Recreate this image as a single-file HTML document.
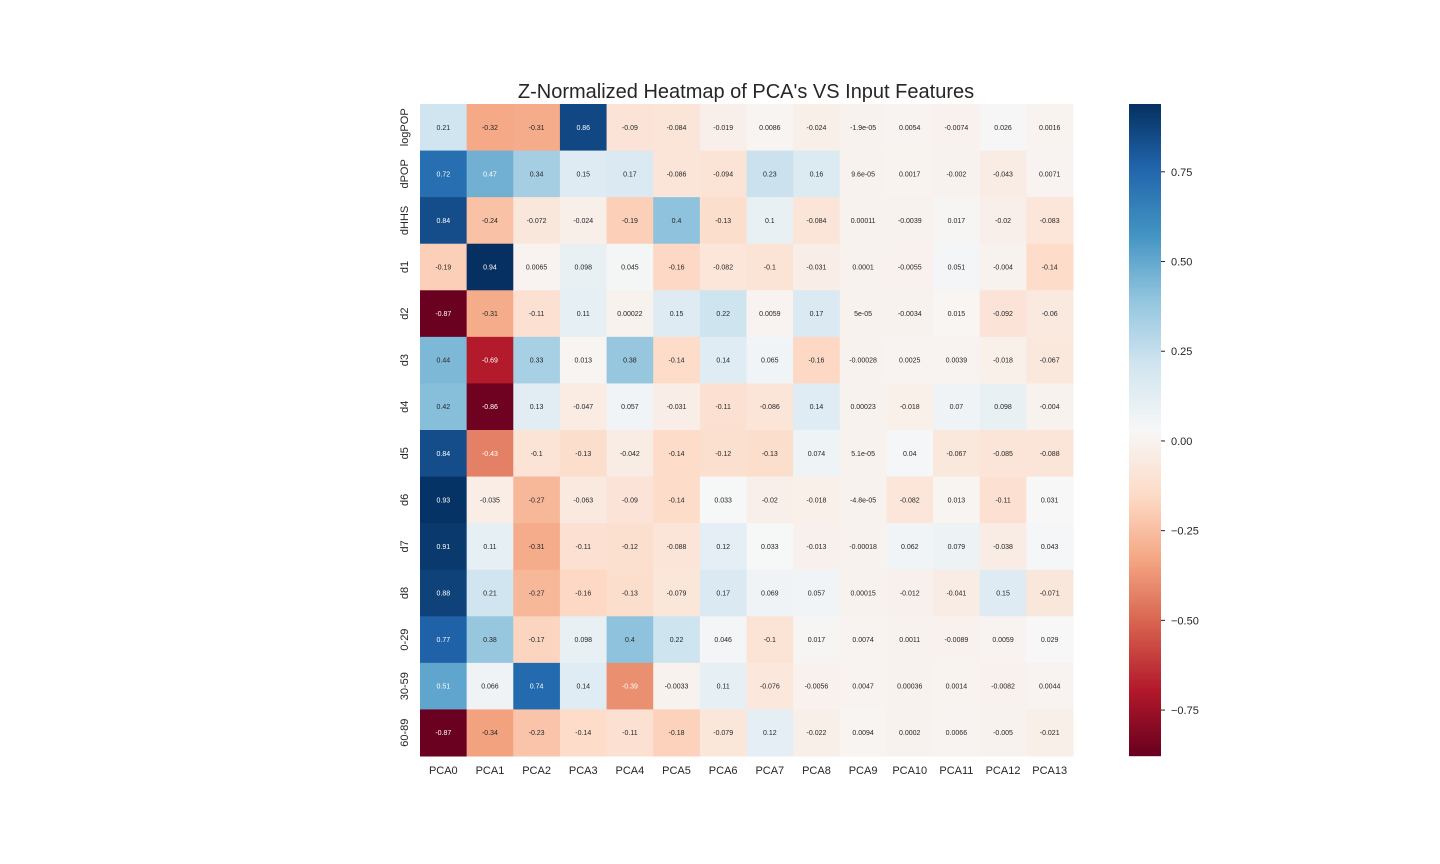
<!DOCTYPE html>
<html><head><meta charset="utf-8">
<style>
html,body{margin:0;padding:0;background:#fff;}
svg{display:block;font-family:"Liberation Sans","DejaVu Sans",sans-serif;}
</style></head>
<body>
<svg id="chart" width="1440" height="864" viewBox="0 0 1440 864" xmlns="http://www.w3.org/2000/svg">
<text x="746" y="98" font-size="20" text-anchor="middle" fill="#262626">Z-Normalized Heatmap of PCA's VS Input Features</text>
<g id="cells"></g>
<g id="ylabels"></g>
<g id="xlabels"></g>
<g id="cbar"></g>
</svg>
<script>
const rowLabels = ["logPOP","dPOP","dHHS","d1","d2","d3","d4","d5","d6","d7","d8","0-29","30-59","60-89"];
const colLabels = ["PCA0","PCA1","PCA2","PCA3","PCA4","PCA5","PCA6","PCA7","PCA8","PCA9","PCA10","PCA11","PCA12","PCA13"];
const rowLogPOP = [0.21,-0.32,-0.31,0.86,-0.09,-0.084,-0.019,0.0086,-0.024,-1.9e-05,0.0054,-0.0074,0.026,0.0016];
const rowDPOP = [0.72,0.47,0.34,0.15,0.17,-0.086,-0.094,0.23,0.16,9.6e-05,0.0017,-0.002,-0.043,0.0071];
const rowDHHS = [0.84,-0.24,-0.072,-0.024,-0.19,0.4,-0.13,0.1,-0.084,0.00011,-0.0039,0.017,-0.02,-0.083];
const rowD1 = [-0.19,0.94,0.0065,0.098,0.045,-0.16,-0.082,-0.1,-0.031,0.0001,-0.0055,0.051,-0.004,-0.14];
const rowD2 = [-0.87,-0.31,-0.11,0.11,0.00022,0.15,0.22,0.0059,0.17,5e-05,-0.0034,0.015,-0.092,-0.06];
const rowD3 = [0.44,-0.69,0.33,0.013,0.38,-0.14,0.14,0.065,-0.16,-0.00028,0.0025,0.0039,-0.018,-0.067];
const rowD4 = [0.42,-0.86,0.13,-0.047,0.057,-0.031,-0.11,-0.086,0.14,0.00023,-0.018,0.07,0.098,-0.004];
const rowD5 = [0.84,-0.43,-0.1,-0.13,-0.042,-0.14,-0.12,-0.13,0.074,5.1e-05,0.04,-0.067,-0.085,-0.088];
const rowD6 = [0.93,-0.035,-0.27,-0.063,-0.09,-0.14,0.033,-0.02,-0.018,-4.8e-05,-0.082,0.013,-0.11,0.031];
const rowD7 = [0.91,0.11,-0.31,-0.11,-0.12,-0.088,0.12,0.033,-0.013,-0.00018,0.062,0.079,-0.038,0.043];
const rowD8 = [0.88,0.21,-0.27,-0.16,-0.13,-0.079,0.17,0.069,0.057,0.00015,-0.012,-0.041,0.15,-0.071];
const row0_29 = [0.77,0.38,-0.17,0.098,0.4,0.22,0.046,-0.1,0.017,0.0074,0.0011,-0.0089,0.0059,0.029];
const row30_59 = [0.51,0.066,0.74,0.14,-0.39,-0.0033,0.11,-0.076,-0.0056,0.0047,0.00036,0.0014,-0.0082,0.0044];
const row60_89 = [-0.87,-0.34,-0.23,-0.14,-0.11,-0.18,-0.079,0.12,-0.022,0.0094,0.0002,0.0066,-0.005,-0.021];
const cbarTicks = [0.75,0.5,0.25,0,-0.25,-0.5,-0.75];
const cbarTickLabels = ["0.75","0.50","0.25","0.00","\u22120.25","\u22120.50","\u22120.75"];

const matrix = [rowLogPOP,rowDPOP,rowDHHS,rowD1,rowD2,rowD3,rowD4,rowD5,rowD6,rowD7,rowD8,row0_29,row30_59,row60_89];
const NS = "http://www.w3.org/2000/svg";
const X0 = 420, X1 = 1073, Y0 = 104, Y1 = 756;
const cw = (X1 - X0) / colLabels.length, ch = (Y1 - Y0) / rowLabels.length;
const vmin = -0.878, vmax = 0.939;
const xPos = i => X0 + i * cw;
const yPos = j => Y0 + j * ch;
const cbY = v => Y0 + (vmax - v) / (vmax - vmin) * (Y1 - Y0);

const rdbu = ["#67001f","#b2182b","#d6604d","#f4a582","#fddbc7","#f7f7f7","#d1e5f0","#92c5de","#4393c3","#2166ac","#053061"].map(h=>[parseInt(h.substr(1,2),16),parseInt(h.substr(3,2),16),parseInt(h.substr(5,2),16)]);
function cmap(v){
  let t = (v - vmin) / (vmax - vmin); t = Math.max(0, Math.min(1, t));
  const p = t * 10, i = Math.min(9, Math.floor(p)), f = p - i;
  const a = rdbu[i], b = rdbu[i+1];
  return [0,1,2].map(k => Math.round(a[k] + (b[k]-a[k])*f));
}
function lum(c){
  const l = c.map(x=>{x/=255;return x<=0.03928?x/12.92:Math.pow((x+0.055)/1.055,2.4);});
  return 0.2126*l[0]+0.7152*l[1]+0.0722*l[2];
}
function fmt(v){
  if (v === 0) return "0";
  const e = Math.floor(Math.log10(Math.abs(v)));
  if (e < -4) {
    let m = parseFloat((v/Math.pow(10,e)).toPrecision(2)).toString();
    const ae = Math.abs(e);
    return m + "e-" + (ae<10?"0":"") + ae;
  }
  return parseFloat(v.toPrecision(2)).toString();
}
function mk(tag, attrs, parent){
  const el = document.createElementNS(NS, tag);
  for (const k in attrs) el.setAttribute(k, attrs[k]);
  parent.appendChild(el); return el;
}
const gc = document.getElementById("cells");
matrix.forEach((row, j) => {
  row.forEach((v, i) => {
    const c = cmap(v);
    const r = mk("rect", {x:xPos(i), y:yPos(j), width:cw+0.5, height:ch+0.5, fill:`rgb(${c[0]},${c[1]},${c[2]})`}, gc);
    
    
    const t = mk("text", {x:xPos(i)+cw/2, y:yPos(j)+ch/2+2.5, "font-size":"7", "text-anchor":"middle", fill: lum(c) > 0.408 ? "#262626" : "#ffffff"}, gc);
    
    
    t.textContent = fmt(v);
  });
});
const gy = document.getElementById("ylabels");
rowLabels.forEach((lab, j) => {
  const cy = yPos(j) + ch/2, x = 408;
  const t = mk("text", {x:x, y:cy, "font-size":"11", "text-anchor":"middle", fill:"#262626", transform:`rotate(-90 ${x} ${cy})`}, gy);
  
  
  t.textContent = lab;
});
const gx = document.getElementById("xlabels");
colLabels.forEach((lab, i) => {
  const t = mk("text", {x:xPos(i)+cw/2, y:774, "font-size":"11", "text-anchor":"middle", fill:"#262626"}, gx);
  
  
  t.textContent = lab;
});
const gb = document.getElementById("cbar");
const CB0 = 1129, CBW = 32;
for (let k = 0; k < 652; k++) {
  const v = vmax - (k + 0.5) / 652 * (vmax - vmin);
  const c = cmap(v);
  const r = mk("rect", {x:CB0, y:Y0 + k, width:CBW, height:1.2, fill:`rgb(${c[0]},${c[1]},${c[2]})`}, gb);
  
  
}
cbarTicks.forEach((v, k) => {
  const y = cbY(v);
  const l = mk("line", {x1:CB0+CBW, x2:CB0+CBW+4, y1:y, y2:y, stroke:"#262626", "stroke-width":"1"}, gb);
  
  
  const t = mk("text", {x:CB0+CBW+10, y:y+4, "font-size":"11", fill:"#262626"}, gb);
  
  
  t.textContent = cbarTickLabels[k];
});
</script>
</body></html>
